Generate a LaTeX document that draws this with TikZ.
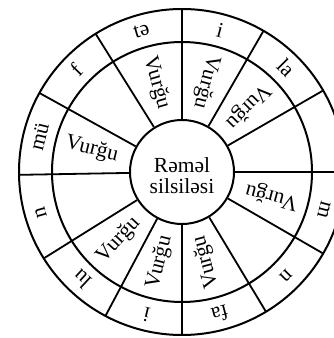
\documentclass[tikz,border=0pt]{standalone}
\usepackage{fontspec}
\setmainfont{Liberation Serif}
\tikzset{
  ring/.style={line width=2pt},
  spoke/.style={line width=1.8pt},
  silbe/.style={font=\fontsize{21.5}{21}\selectfont, inner sep=0pt},
}
\begin{document}
\begin{tikzpicture}[x=1pt,y=1pt]
  \useasboundingbox (-182,-166) rectangle (152,172);

  % Kreise
  \draw[ring] (0,0) circle (163pt);
  \draw[ring] (0,0) circle (130pt);
  \node[circle, draw, ring, minimum size=104pt, inner sep=0pt] (mitte) at (0,0) {};
  \node[silbe, align=center] (titel) at (0,-4) {Rəməl\\silsiləsi};

  % Speichen
  \foreach \a in {0,30,60,90,122,151,181,212,242,270,301,330} {
      \draw[spoke] (mitte.\a) -- (\a:163pt);
    }

  % Silben im aeusseren Ring
  \foreach \a/\t [count=\i] in {45/la, 75/i, 106/tə, 136/f, 166/mü, 196/n,
      227/lu, 256/i, 285/fa, 315/n, 345/m} {
      \node[silbe, rotate=\a-90] (silbe\i) at (\a:147pt) {\t};
    }

  % Vurgu im mittleren Ring
  \foreach \a [count=\i] in {45,75,106,166,227,256,285,345} {
      \node[silbe, rotate=\a+180] (vurgu\i) at (\a:93pt) {Vurğu};
    }
\end{tikzpicture}
\end{document}
